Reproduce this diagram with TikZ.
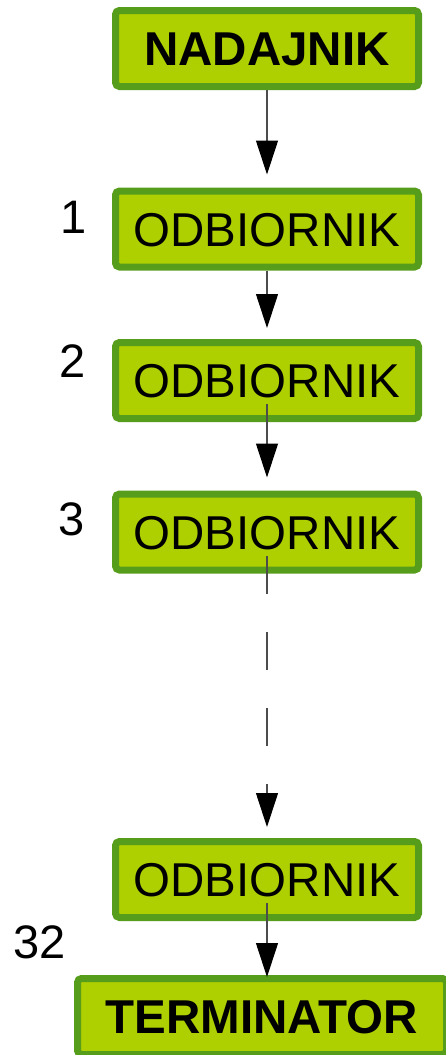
\documentclass[tikz,border=0pt]{standalone}
\usepackage{fontspec}
\setmainfont{Liberation Sans}
\usetikzlibrary{arrows.meta}
\definecolor{boxfill}{HTML}{AECF00}
\definecolor{boxline}{HTML}{579D1C}
\tikzset{
  unit/.style={draw=boxline, fill=boxfill, line width=7pt, rounded corners=4pt,
    minimum width=303pt, minimum height=76pt, inner sep=0pt,
    font=\fontsize{47.5}{50}\selectfont, text height=34pt, text depth=0pt},
  endunit/.style={unit, font=\fontsize{47.5}{50}\selectfont\bfseries},
  idx/.style={anchor=base, inner sep=0pt, font=\fontsize{47}{50}\selectfont},
  conn/.style={draw=black!70, line width=1.1pt,
    -{Triangle[length=34pt, width=22pt, color=black]}},
  gapconn/.style={conn, dash pattern=on 38pt off 38pt}
}
\begin{document}
\begin{tikzpicture}[x=1pt, y=-1pt]
  \useasboundingbox (0,0) rectangle (445,1055);

  % bus devices
  \node[endunit] (nad) at (267,48.5) {NADAJNIK};
  \node[unit] (o1) at (267,229) {ODBIORNIK};
  \node[unit] (o2) at (267,380.5) {ODBIORNIK};
  \node[unit] (o3) at (267,532) {ODBIORNIK};
  \node[unit] (o4) at (267,879.5) {ODBIORNIK};
  \node[endunit, minimum width=369pt] (term) at (262,1016.5) {TERMINATOR};

  % device numbers
  \node[idx] (n1) at (74,233) {1};
  \node[idx] (n2) at (73,377) {2};
  \node[idx] (n3) at (71.5,535) {3};
  \node[idx] (n32) at (40,958) {32};

  % entry point on the terminator, in line with the last receiver
  \coordinate (tin) at (term.north -| o4.center);

  % signal path
  \draw[conn] (nad.south) -- ([yshift=13pt]o1.north);
  \draw[conn] (o1.south) -- ([yshift=11pt]o2.north);
  \draw[conn] ([yshift=-23.5pt]o2.center) -- ([yshift=13pt]o3.north);
  \draw[gapconn] ([yshift=-24pt]o3.center) -- ([yshift=11pt]o4.north);
  \draw[conn] ([yshift=-23.5pt]o4.center) -- ([yshift=-2pt]tin);
\end{tikzpicture}
\end{document}
